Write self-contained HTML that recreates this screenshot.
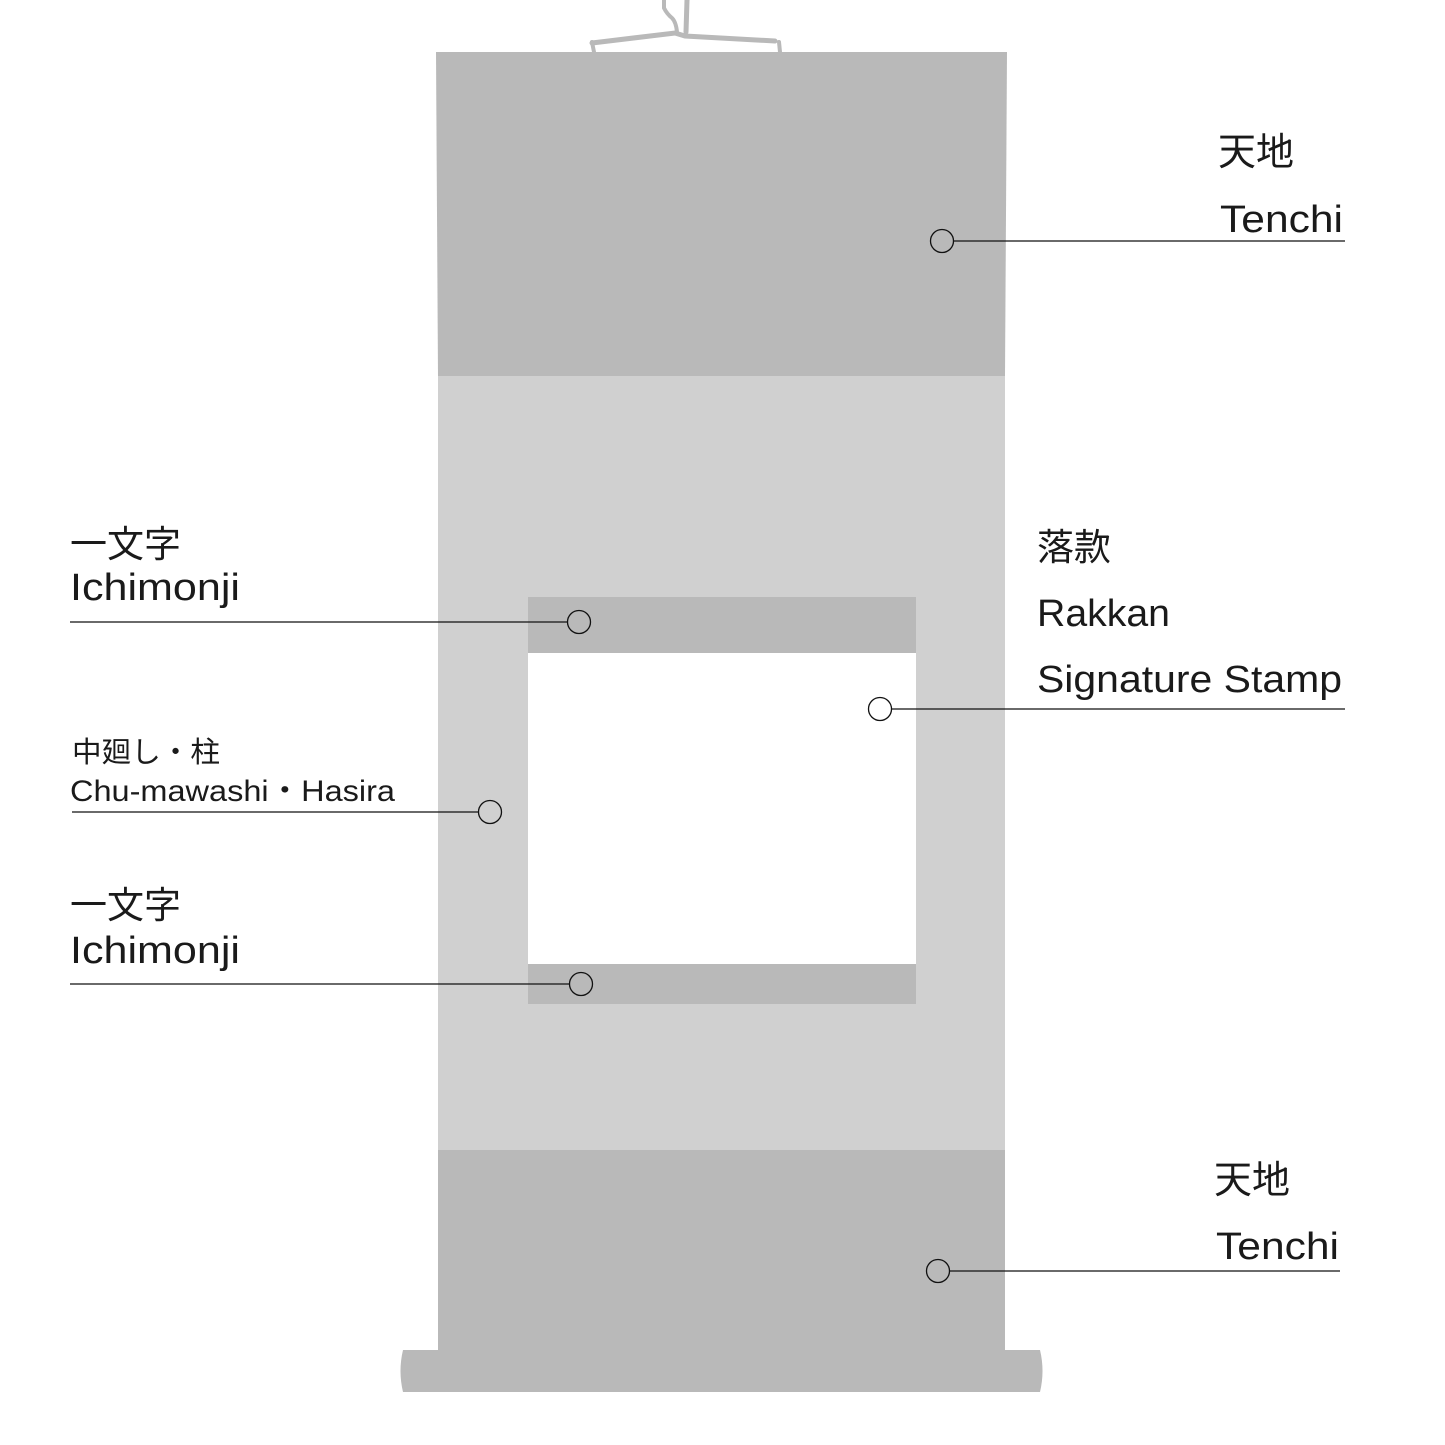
<!DOCTYPE html>
<html><head><meta charset="utf-8"><style>html,body{margin:0;padding:0;background:#fff}svg{display:block}</style></head>
<body>
<svg width="1445" height="1445" viewBox="0 0 1445 1445" xmlns="http://www.w3.org/2000/svg" font-family="'Liberation Sans','Noto Sans CJK JP',sans-serif" fill="#1a1a1a">
<!-- hanger -->
<g stroke="#b9b9b9" fill="none" stroke-linecap="round">
<path d="M664 0 L664 8 Q667 14 672 18 Q676 22 677 32" stroke-width="4"/>
<path d="M687 0 L686 32" stroke-width="5"/>
<path d="M592 43 L675 33 L685 36 L775 41" stroke-width="5"/>
<path d="M592 42 L594 52 M779 42 L780 52" stroke-width="4"/>
</g>
<!-- top tenchi -->
<path d="M436 52 L1007 52 L1005 376 L438 376 Z" fill="#b9b9b9"/>
<!-- middle -->
<rect x="438" y="376" width="567" height="775" fill="#d0d0d0"/>
<rect x="528" y="597" width="388" height="56" fill="#b9b9b9"/>
<rect x="528" y="653" width="388" height="311" fill="#fff"/>
<rect x="528" y="964" width="388" height="40" fill="#b9b9b9"/>
<!-- bottom -->
<rect x="438" y="1150" width="567" height="202" fill="#b9b9b9"/>
<path d="M403 1350 L1040 1350 Q1045 1371 1040 1392 L403 1392 Q398 1371 403 1350 Z" fill="#b9b9b9"/>
<!-- leaders -->
<g stroke="#111" stroke-width="1.3" fill="none">
<line x1="953" y1="241" x2="1345" y2="241"/><circle cx="942" cy="241" r="11.5"/>
<line x1="70" y1="622" x2="567" y2="622"/><circle cx="579" cy="622" r="11.5"/>
<line x1="892" y1="709" x2="1345" y2="709"/><circle cx="880" cy="709" r="11.5"/>
<line x1="72" y1="812" x2="478" y2="812"/><circle cx="490" cy="812" r="11.5"/>
<line x1="70" y1="984" x2="569" y2="984"/><circle cx="581" cy="984" r="11.5"/>
<line x1="950" y1="1271" x2="1340" y2="1271"/><circle cx="938" cy="1271" r="11.5"/>
</g>
<!-- labels -->
<text x="1218" y="165" font-size="38">天地</text>
<text x="1220" y="232" font-size="38" textLength="123" lengthAdjust="spacingAndGlyphs">Tenchi</text>
<text x="70" y="557" font-size="37">一文字</text>
<text x="70" y="600" font-size="38" textLength="170" lengthAdjust="spacingAndGlyphs">Ichimonji</text>
<text x="1037" y="560" font-size="37">落款</text>
<text x="1037" y="626" font-size="38" textLength="133" lengthAdjust="spacingAndGlyphs">Rakkan</text>
<text x="1037" y="692" font-size="38" textLength="305" lengthAdjust="spacingAndGlyphs">Signature Stamp</text>
<text x="72" y="762" font-size="29" textLength="148" lengthAdjust="spacingAndGlyphs">中廻し・柱</text>
<text x="70" y="801" font-size="30" textLength="325" lengthAdjust="spacingAndGlyphs">Chu-mawashi・Hasira</text>
<text x="70" y="918" font-size="37">一文字</text>
<text x="70" y="963" font-size="38" textLength="170" lengthAdjust="spacingAndGlyphs">Ichimonji</text>
<text x="1214" y="1193" font-size="38">天地</text>
<text x="1216" y="1259" font-size="38" textLength="123" lengthAdjust="spacingAndGlyphs">Tenchi</text>
</svg>
</body></html>
